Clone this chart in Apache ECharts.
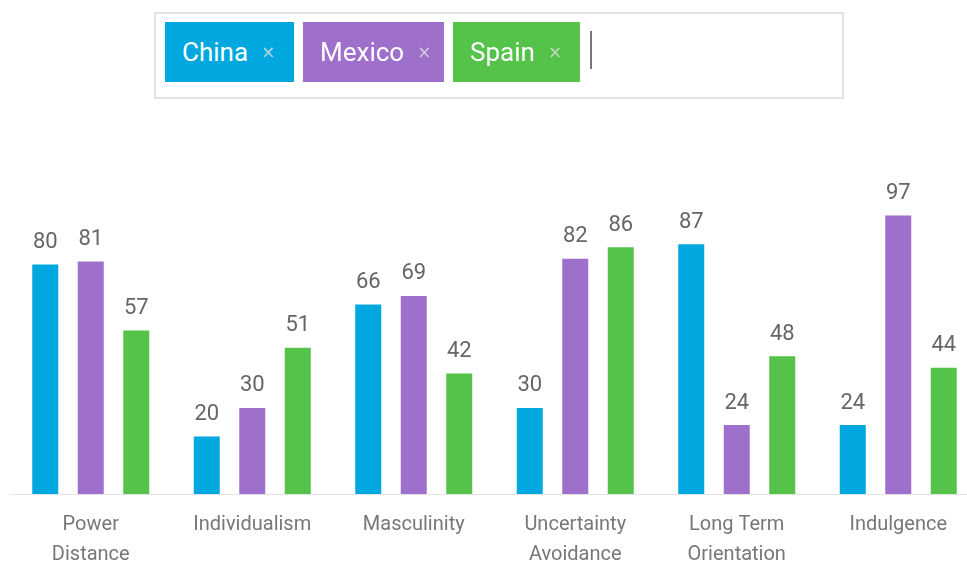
<!DOCTYPE html>
<html>
<head>
<meta charset="utf-8">
<script src="https://cdn.jsdelivr.net/npm/echarts@6/dist/echarts.min.js"></script>
<style>
  html, body { margin: 0; padding: 0; width: 967px; height: 562px; overflow: hidden; background: #fff; }
  #chart { position: absolute; left: 0; top: 0; width: 990px; height: 562px; }
  #tagbox { position: absolute; left: 154px; top: 12px; width: 686px; height: 83px;
            border: 2px solid #e2e2e2; box-sizing: content-box; }
  .chip { position: absolute; top: 8px; height: 60px; display: flex; align-items: center;
          color: #fff; font-family: Roboto, sans-serif; font-size: 26px; box-sizing: border-box;
          padding-left: 17px; }
  .chip .x { color: rgba(220,220,220,0.85); font-size: 17px; margin-left: 13px; font-family: "DejaVu Sans", sans-serif; }
  #cursor { position: absolute; left: 434px; top: 17px; width: 2px; height: 38px; background: #777; }
</style>
</head>
<body>
<div id="chart"></div>
<div id="tagbox"><div id="cursor"></div></div>
<script>
// ---- data ----
const categories = ["Power Distance", "Individualism", "Masculinity", "Uncertainty Avoidance", "Long Term Orientation", "Indulgence"];
const countries = ["China", "Mexico", "Spain"];
const chinaValues  = [80, 20, 66, 30, 87, 24];
const mexicoValues = [81, 30, 69, 82, 24, 97];
const spainValues  = [57, 51, 42, 86, 48, 44];
const colors = ["#00a8df", "#9e70cc", "#55c24a"];

// ---- tag box (selected countries) ----
const chipLefts = [9, 147, 297];
const chipWidths = [129, 141, 127];
const box = document.getElementById('tagbox');
countries.forEach((c, i) => {
  const d = document.createElement('div');
  d.className = 'chip';
  d.style.left = chipLefts[i] + 'px';
  d.style.width = chipWidths[i] + 'px';
  d.style.background = colors[i];
  d.innerHTML = '<span>' + c + '</span><span class="x">×</span>';
  box.appendChild(d);
});

// ---- chart ----
const chart = echarts.init(document.getElementById('chart'));
const seriesValues = [chinaValues, mexicoValues, spainValues];
chart.setOption({
  animation: false,
  grid: { left: 10, right: 11, top: 207, bottom: 68, containLabel: false, outerBoundsMode: 'none' },
  xAxis: {
    type: 'category',
    data: categories,
    axisLine: { lineStyle: { color: '#e4e4e4', width: 1 } },
    axisTick: { show: false },
    axisLabel: {
      color: '#777',
      fontFamily: 'Roboto',
      fontSize: 20,
      lineHeight: 30,
      margin: 16,
      interval: 0,
      formatter: v => {
        const i = v.lastIndexOf(' ');
        return i > 0 ? v.slice(0, i) + '\n' + v.slice(i + 1) : v;
      }
    }
  },
  yAxis: { type: 'value', min: 0, max: 100, show: false, splitLine: { show: false } },
  series: countries.map((c, i) => ({
    name: c,
    type: 'bar',
    data: seriesValues[i],
    barWidth: 26,
    barGap: '75%',
    itemStyle: { color: colors[i] },
    label: {
      show: true,
      position: 'top',
      distance: 11,
      color: '#666',
      fontFamily: 'Roboto',
      fontSize: 22
    }
  }))
});
</script>
</body>
</html>
